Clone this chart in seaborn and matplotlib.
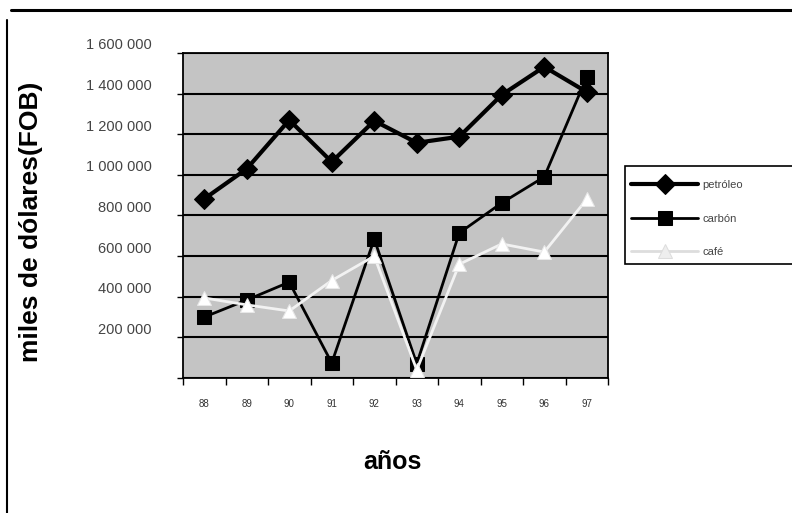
import matplotlib
matplotlib.use("Agg")
import matplotlib.pyplot as plt
from matplotlib.lines import Line2D
from matplotlib.patches import Rectangle
from matplotlib.transforms import ScaledTranslation
import numpy as np
import pandas as pd
import seaborn as sns

# Annual values, thousands of US dollars FOB
anios = ["88", "89", "90", "91", "92", "93", "94", "95", "96", "97"]
petroleo = [882000, 1030000, 1270000, 1064000, 1266000, 1158000, 1188000, 1394000, 1532000, 1408000]
carbon = [300000, 384000, 472000, 74000, 684000, 70000, 714000, 862000, 990000, 1482000]
cafe = [394000, 360000, 330000, 480000, 600000, 40000, 560000, 660000, 620000, 880000]
series_names = ["petróleo", "carbón", "café"]

y_ticks = [0, 200000, 400000, 600000, 800000, 1000000, 1200000, 1400000, 1600000]
y_labels = [""] + [f"{v:,}".replace(",", " ") for v in y_ticks[1:]]

sns.set_theme(style="white")
plt.rcParams["font.family"] = ["Liberation Sans", "DejaVu Sans"]

df = pd.DataFrame({
    "pos": np.tile(np.arange(len(anios)), 3),
    "valor": petroleo + carbon + cafe,
    "serie": np.repeat(series_names, len(anios)),
})

fig = plt.figure(figsize=(7.92, 5.13), dpi=100)
fig.patch.set_facecolor("white")
ax = fig.add_axes([183 / 792, 1 - 378 / 513, 425 / 792, 325 / 513])
ax.set_facecolor("#c4c4c4")

styles = {
    "petróleo": dict(color="black", lw=3.0, marker="D", ms=10.5, mec="black", mfc="black"),
    "carbón": dict(color="black", lw=2.0, marker="s", ms=10.5, mec="black", mfc="black"),
    "café": dict(color="#f2f2f2", lw=2.0, marker="^", ms=10, mec="#e8e8e8", mfc="white"),
}
for name in series_names:
    st = styles[name]
    sns.lineplot(data=df[df["serie"] == name], x="pos", y="valor", ax=ax,
                 color=st["color"], linewidth=st["lw"], marker=st["marker"],
                 markersize=st["ms"], markeredgecolor=st["mec"],
                 markerfacecolor=st["mfc"], label=name, zorder=3)

ax.set_xlim(-0.5, len(anios) - 0.5)
ax.set_ylim(0, 1600000)

# horizontal gridlines
ax.set_yticks(y_ticks)
ax.set_yticklabels(y_labels, fontsize=10.5, color="#444444")
ax.yaxis.grid(True, color="black", lw=1.5)
ax.xaxis.grid(False)
ax.tick_params(axis="y", length=4, width=1, color="black", left=True, pad=18.5)
off = ScaledTranslation(0, 9 / 100, fig.dpi_scale_trans)
for lab in ax.get_yticklabels():
    lab.set_transform(lab.get_transform() + off)

# category ticks at boundaries, labels centred on categories
ax.set_xticks(np.arange(len(anios) + 1) - 0.5)
ax.set_xticklabels([])
ax.set_xticks(np.arange(len(anios)), minor=True)
ax.set_xticklabels(anios, minor=True, fontsize=7, color="#333333")
ax.tick_params(axis="x", which="major", length=5, width=1, color="black", bottom=True)
ax.tick_params(axis="x", which="minor", length=0, pad=15)

for sp in ax.spines.values():
    sp.set_color("black")
    sp.set_linewidth(1.3)

ax.set_xlabel("")
ax.set_ylabel("")
fig.text(392 / 792, 1 - 462 / 513, "años", ha="center", va="center",
         fontsize=18, fontweight="bold", color="black")
fig.text(31 / 792, 1 - 222 / 513, "miles de dólares(FOB)", ha="center", va="center",
         rotation=90, fontsize=19, fontweight="bold", color="black")

# legend box running off the right edge of the page
ax.add_patch(Rectangle((625 / 792, 1 - 264 / 513), 180 / 792, 98 / 513,
                       transform=fig.transFigure, facecolor="white",
                       edgecolor="black", lw=1.2, clip_on=False, zorder=10))
leg = ax.legend(loc="upper left", bbox_to_anchor=(628 / 792, 1 - 177 / 513),
                bbox_transform=fig.transFigure, frameon=False, fontsize=8,
                handlelength=6.0, labelspacing=2.1, borderpad=0.3,
                handletextpad=0.4, borderaxespad=0)
leg.set_zorder(20)
for txt in leg.get_texts():
    txt.set_color("#444444")
leg.legend_handles[2].set_color("#dddddd")
leg.legend_handles[2].set_markeredgecolor("#dddddd")
leg.legend_handles[2].set_markerfacecolor("#eeeeee")

# page frame lines
fig.add_artist(Line2D([11 / 792, 1], [1 - 10 / 513, 1 - 10 / 513],
                      transform=fig.transFigure, color="black", lw=2.2))
fig.add_artist(Line2D([7 / 792, 7 / 792], [1 - 20 / 513, 0],
                      transform=fig.transFigure, color="black", lw=1.5))

fig.savefig("out.png", dpi=100)
